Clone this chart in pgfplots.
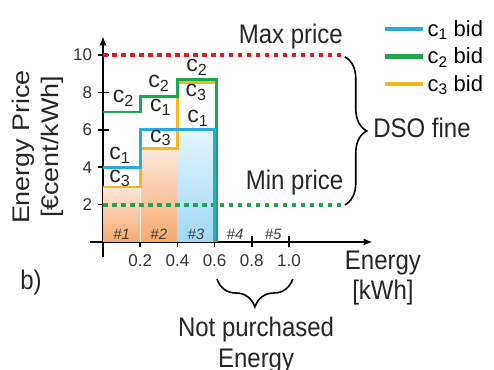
\documentclass[border=0pt]{standalone}
\usepackage{pgfplots}
\pgfplotsset{compat=1.18}
\usepackage{fontspec}
\setmainfont{Liberation Sans}
\usetikzlibrary{decorations.pathreplacing,arrows.meta}
\definecolor{cA}{HTML}{27A9E1}
\definecolor{cB}{HTML}{1FA750}
\definecolor{cC}{HTML}{F5B81C}
\definecolor{dred}{HTML}{E5171F}
\definecolor{dgreen}{HTML}{1DA64E}
\definecolor{orTop}{HTML}{FDE8D8}
\definecolor{orBot}{HTML}{F6A96F}
\definecolor{blTop}{HTML}{E3F5FD}
\definecolor{blBot}{HTML}{9FD9F4}
\newcommand{\lbl}{\fontsize{24}{26.5}\selectfont}
\newcommand{\vs}[1]{\scalebox{1}[1.12]{#1}}
\newcommand{\cl}[1]{c\textsubscript{#1}}
\begin{document}
\begin{tikzpicture}
\begin{axis}[
 x=186pt, y=18.7pt,
 xmin=-0.07, xmax=1.45, ymin=-0.8, ymax=11,
 axis lines=middle,
 axis line style={line width=1.6pt, -{Latex[length=9pt,width=7pt]}},
 clip=false,
 xtick={0.2,0.4,0.6,0.8,1.0}, xticklabels={0.2,0.4,0.6,0.8,1.0},
 ytick={2,4,6,8,10}, yticklabels={2,4,6,8,10},
 tick align=center, major tick length=11pt,
 tick style={line width=1.6pt, black},
 tick label style={font=\fontsize{17}{20}\selectfont, /pgf/number format/assume math mode=true, text=black!80},
 xticklabel style={yshift=-4pt},
 yticklabel style={xshift=-2pt},
 legend style={draw=none, fill=none, at={(1.036,1.083)}, anchor=north west,
   font=\fontsize{22}{26}\selectfont, row sep=6pt, inner sep=0pt,
   /tikz/every even column/.append style={column sep=6pt}},
 legend cell align=left,
 legend image code/.code={\draw[#1, line width=4.5pt] (0pt,0pt) -- (38pt,0pt);},
]
% fills
\addplot[draw=none, top color=orTop, bottom color=orBot, forget plot] coordinates {(0,0)(0,2.94)(0.2,2.94)(0.2,0)} -- cycle;
\addplot[draw=none, top color=orTop, bottom color=orBot, forget plot] coordinates {(0.2,0)(0.2,5)(0.4,5)(0.4,0)} -- cycle;
\addplot[draw=none, top color=blTop, bottom color=blBot, forget plot] coordinates {(0.4,0)(0.4,6)(0.6,6)(0.6,0)} -- cycle;
\addplot[draw=white!88!gray, line width=0.6pt, forget plot] coordinates {(0.2,0)(0.2,2.9)};
% dotted price limits
\addplot[dred, line width=4pt, dash pattern=on 4.5pt off 4.5pt, forget plot] coordinates {(0,10)(1.29,10)};
\addplot[dgreen, line width=4pt, dash pattern=on 4.5pt off 4.5pt, forget plot] coordinates {(0,2)(1.29,2)};
% bids
\addplot[cC, line width=2.8pt, forget plot] coordinates {(0,2.94)(0.2,2.94)(0.2,5)(0.4,5)(0.4,8.55)(0.607,8.55)(0.607,0)};
\addplot[cB, line width=2.8pt, forget plot] coordinates {(0,6.95)(0.2,6.95)(0.2,7.8)(0.4,7.8)(0.4,8.7)(0.61,8.7)(0.61,0)};
\addplot[cA, line width=2.8pt, forget plot] coordinates {(0,4)(0.2,4)(0.2,6)(0.6,6)(0.6,0)};
\addlegendimage{cA}\addlegendentry{\cl{1} bid}
\addlegendimage{cB}\addlegendentry{\cl{2} bid}
\addlegendimage{cC}\addlegendentry{\cl{3} bid}
% bid labels
\begin{scope}[every node/.style={font=\fontsize{23}{26}\selectfont, inner sep=0pt, text=black!85}]
\node at (axis cs:0.11,7.7) {\cl{2}};
\node at (axis cs:0.30,8.5) {\cl{2}};
\node at (axis cs:0.31,7.2) {\cl{1}};
\node at (axis cs:0.505,9.36) {\cl{2}};
\node at (axis cs:0.50,8.0) {\cl{3}};
\node at (axis cs:0.51,6.6) {\cl{1}};
\node at (axis cs:0.31,5.56) {\cl{3}};
\node at (axis cs:0.09,4.65) {\cl{1}};
\node at (axis cs:0.09,3.4) {\cl{3}};
\end{scope}
\begin{scope}[every node/.style={font=\fontsize{15}{18}\selectfont\itshape, inner sep=0pt, text=black!75}]
\node at (axis cs:0.1,0.4) {\#1};
\node at (axis cs:0.3,0.4) {\#2};
\node at (axis cs:0.5,0.4) {\#3};
\node at (axis cs:0.71,0.4) {\#4};
\node at (axis cs:0.915,0.4) {\#5};
\end{scope}
% braces
\draw[decorate, decoration={brace, amplitude=22pt}, line width=1.6pt] (axis cs:1.30,9.9) -- (axis cs:1.30,1.98);
\draw[decorate, decoration={brace, amplitude=28pt}, line width=1.6pt] (axis cs:1.02,-1.98) -- (axis cs:0.613,-1.98);
% text labels
\node[font=\lbl, inner sep=0pt, text=black!85] at (axis cs:1.01,11.0) {\vs{Max price}};
\node[font=\lbl, inner sep=0pt, text=black!85] at (axis cs:1.03,3.2) {\vs{Min price}};
\node[font=\lbl, inner sep=0pt, anchor=west, text=black!85] at (axis cs:1.452,6.1) {\vs{DSO fine}};
\node[font=\lbl, inner sep=0pt, anchor=north, text=black!85] at (axis cs:1.505,-0.37) {\vs{\begin{tabular}{@{}c@{}}Energy\\{[}kWh{]}\end{tabular}}};
\node[font=\fontsize{24}{27.5}\selectfont, inner sep=0pt, anchor=north, text=black!85] at (axis cs:0.823,-3.9) {\vs{\begin{tabular}{@{}c@{}}Not purchased\\Energy\end{tabular}}};
\node[font=\fontsize{24}{29}\selectfont, inner sep=0pt, rotate=90, text=black!85] at (axis cs:-0.349,5.08) {\scalebox{1.12}[1]{\begin{tabular}{@{}c@{}}Energy Price\\{[}€cent/kWh{]}\end{tabular}}};
\node[font=\lbl, inner sep=0pt, text=black!85] at (axis cs:-0.387,-2.19) {\vs{b)}};
\coordinate (bbll) at (axis cs:-0.5538,-6.845);
\coordinate (bbur) at (axis cs:2.1022,12.941);
\end{axis}
\pgfresetboundingbox
\path[use as bounding box] (bbll) rectangle (bbur);
\end{tikzpicture}
\end{document}
